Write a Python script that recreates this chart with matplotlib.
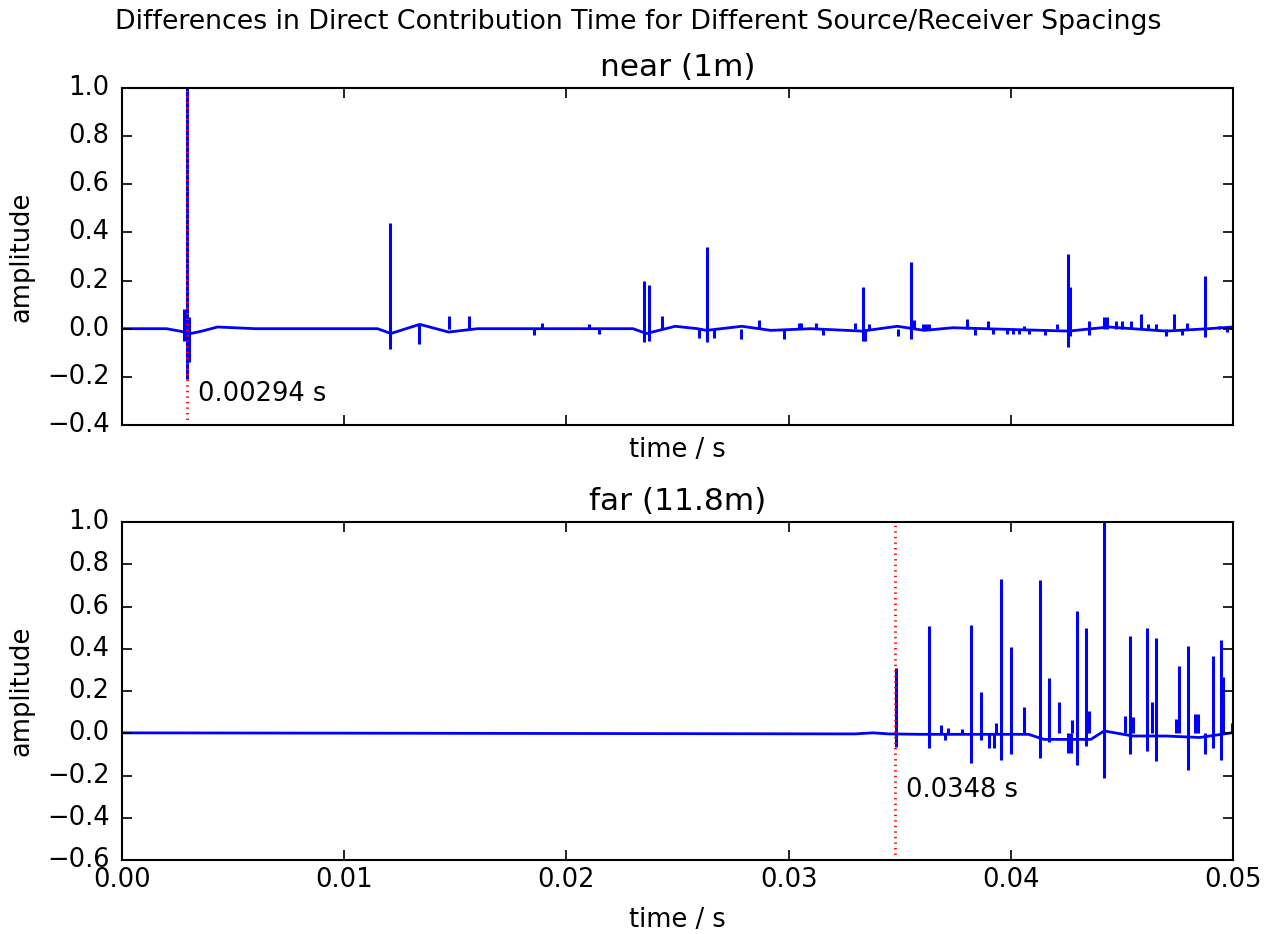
import numpy as np
import matplotlib
matplotlib.use('Agg')
import matplotlib.pyplot as plt

plt.style.use('classic')
plt.rcParams['figure.facecolor'] = 'white'
plt.rcParams['savefig.facecolor'] = 'white'
plt.rcParams['font.family'] = 'DejaVu Sans'

# ---- near (1m) ----
near_arrival = 0.00294
# slow baseline wobble (time, amplitude)
near_base_t = [0.0, 0.0020, 0.0026, 0.0031, 0.0036, 0.0043, 0.0060, 0.0090, 0.0115, 0.0121,
               0.0134, 0.0147, 0.0160, 0.0200, 0.0230, 0.0236, 0.0249, 0.0259, 0.0263,
               0.0279, 0.0292, 0.0310, 0.0333, 0.0349, 0.0361, 0.0374, 0.0403, 0.0426,
               0.0444, 0.0470, 0.0489, 0.0500]
near_base_v = [0.0, 0.0, -0.01, -0.02, -0.01, 0.007, 0.0, 0.0, 0.0, -0.02,
               0.018, -0.014, 0.0, 0.0, 0.0, -0.02, 0.01, 0.0, -0.007,
               0.01, -0.007, 0.0, -0.01, 0.01, -0.007, 0.004, -0.004, -0.01,
               0.007, -0.01, 0.0, 0.007]
# reflections: time, top, bottom
near_spk_t = [0.00279, 0.00294, 0.00302, 0.01206, 0.01338, 0.01470, 0.01561, 0.01855, 0.01890,
              0.02104, 0.02145, 0.02349, 0.02370, 0.02429, 0.02598, 0.02631, 0.02665, 0.02787,
              0.02866, 0.02981, 0.03046, 0.03056, 0.03123, 0.03157, 0.03301, 0.03333, 0.03342,
              0.03362, 0.03491, 0.03549, 0.03563, 0.03605, 0.03617, 0.03634, 0.03802, 0.03837,
              0.03896, 0.03921, 0.03983, 0.04008, 0.04037, 0.04059, 0.04084, 0.04156, 0.04207,
              0.04257, 0.04268, 0.04352, 0.04419, 0.04431, 0.04473, 0.04500, 0.04540, 0.04584,
              0.04616, 0.04655, 0.04697, 0.04735, 0.04772, 0.04794, 0.04873, 0.04937, 0.04974,
              0.04991, 0.04998]
near_spk_hi = [0.08, 1.0, 0.05, 0.44, 0.018, 0.053, 0.053, 0.0, 0.025,
               0.02, 0.0, 0.20, 0.18, 0.053, 0.0, 0.339, 0.0, 0.0,
               0.038, 0.0, 0.025, 0.025, 0.025, 0.0, 0.025, 0.172, 0.0,
               0.02, 0.0, 0.275, 0.035, 0.02, 0.02, 0.02, 0.042, 0.0,
               0.03, 0.0, 0.0, 0.0, 0.0, 0.012, 0.0, 0.0, 0.02,
               0.311, 0.175, 0.03, 0.05, 0.05, 0.03, 0.03, 0.03, 0.063,
               0.02, 0.02, 0.0, 0.06, 0.0, 0.025, 0.217, 0.01, 0.0,
               0.01, 0.12]
near_spk_lo = [-0.05, -0.21, -0.14, -0.084, -0.063, 0.0, 0.0, -0.025, 0.0,
               0.0, -0.02, -0.056, -0.05, 0.0, -0.038, -0.056, -0.038, -0.042,
               0.0, -0.042, 0.0, 0.0, 0.0, -0.028, 0.0, -0.052, -0.05,
               0.0, -0.032, -0.042, 0.0, 0.0, 0.0, 0.0, 0.0, -0.025,
               0.0, -0.02, -0.02, -0.02, -0.02, 0.0, -0.02, -0.025, 0.0,
               -0.077, -0.03, -0.025, 0.0, 0.0, 0.0, 0.0, 0.0, 0.0,
               0.0, 0.0, -0.03, 0.0, -0.025, 0.0, -0.035, 0.0, -0.015,
               0.0, 0.0]

# ---- far (11.8m) ----
far_arrival = 0.0348
far_base_t = [0.0, 0.0200, 0.0330, 0.0338, 0.0345, 0.0360, 0.0408, 0.0415, 0.0436,
              0.0442, 0.0455, 0.0470, 0.0485, 0.0500]
far_base_v = [0.002, -0.001, -0.003, 0.002, -0.003, -0.005, -0.005, -0.029, -0.029,
              0.011, -0.013, -0.013, -0.02, 0.003]
far_spk_t = [0.03484, 0.03630, 0.03688, 0.03703, 0.03717, 0.03779, 0.03820, 0.03865, 0.03900,
             0.03923, 0.03935, 0.03955, 0.03999, 0.04059, 0.04130, 0.04174, 0.04215, 0.04257,
             0.04271, 0.04277, 0.04296, 0.04337, 0.04353, 0.04420, 0.04516, 0.04536, 0.04550,
             0.04612, 0.04636, 0.04653, 0.04743, 0.04759, 0.04797, 0.04828, 0.04842, 0.04873,
             0.04911, 0.04945, 0.04954, 0.04995]
far_spk_hi = [0.31, 0.506, 0.038, 0.0, 0.027, 0.02, 0.511, 0.195, 0.0,
              0.0, 0.05, 0.73, 0.41, 0.123, 0.725, 0.26, 0.147, 0.0,
              0.0, 0.062, 0.58, 0.50, 0.107, 1.0, 0.083, 0.462, 0.075,
              0.50, 0.147, 0.45, 0.067, 0.32, 0.414, 0.09, 0.09, 0.0,
              0.367, 0.44, 0.264, 0.05]
far_spk_lo = [-0.064, -0.072, 0.0, -0.032, 0.0, 0.0, -0.14, -0.03, -0.069,
              -0.069, 0.0, -0.125, -0.097, 0.0, -0.115, -0.04, 0.0, -0.093,
              -0.093, 0.0, -0.149, -0.06, 0.0, -0.212, 0.0, -0.10, 0.0,
              -0.085, 0.0, -0.133, 0.0, 0.0, -0.173, 0.0, 0.0, -0.10,
              -0.07, -0.125, 0.0, 0.0]

fig = plt.figure(figsize=(12.76, 9.34), dpi=100)
fs = 18.5

panels = [
    ('near (1m)', near_arrival, near_base_t, near_base_v, near_spk_t, near_spk_hi, near_spk_lo,
     [0.0956, 0.5450, 0.8707, 0.3608], (-0.4, 1.0), '0.00294 s', 4),
    ('far (11.8m)', far_arrival, far_base_t, far_base_v, far_spk_t, far_spk_hi, far_spk_lo,
     [0.0956, 0.0792, 0.8707, 0.3619], (-0.6, 1.0), '0.0348 s', 10),
]

axes = []
for title, arr, bt, bv, st, sh, sl, rect, ylim, label, xpad in panels:
    ax = fig.add_axes(rect)
    ax.plot(bt, bv, color='b', lw=2.0)
    ax.vlines(st, sl, sh, colors='b', lw=2.2)
    ax.axvline(arr, color='r', ls=':', lw=2.0)
    ax.text(arr + 0.0005, -0.3, label, fontsize=fs)
    ax.set_xlim(0, 0.05)
    ax.set_ylim(*ylim)
    ax.set_yticks(np.arange(ylim[0], 1.01, 0.2))
    ax.set_xticks([0.0, 0.01, 0.02, 0.03, 0.04, 0.05])
    ax.set_title(title, fontsize=22.5, y=1.015)
    ax.set_ylabel('amplitude', fontsize=fs, labelpad=9)
    ax.set_xlabel('time / s', fontsize=fs, labelpad=xpad)
    ax.tick_params(labelsize=fs, direction='in', length=7, width=1.2)
    ax.tick_params(axis='x', pad=5)
    ax.tick_params(axis='y', pad=9)
    for sp in ax.spines.values():
        sp.set_linewidth(1.5)
    axes.append(ax)

axes[0].set_xticklabels([])
fig.suptitle('Differences in Direct Contribution Time for Different Source/Receiver Spacings',
             fontsize=19.3, y=0.99)

fig.savefig('out.png', dpi=100)
